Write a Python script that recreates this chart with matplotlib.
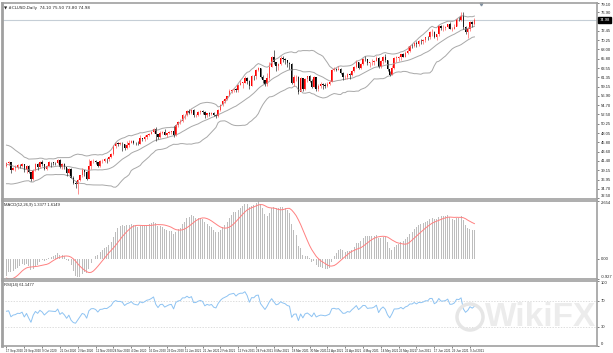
import numpy as np
import pandas as pd
import matplotlib
matplotlib.use("Agg")
import matplotlib.pyplot as plt
from matplotlib.patches import Ellipse

plt.rcParams["font.family"] = ["Liberation Sans", "DejaVu Sans"]

# closes before the first visible bar, only used to warm up the indicators
warmup = [40.65, 40.63, 40.62, 40.90, 40.55, 40.10, 39.43, 40.33, 40.75, 40.59,
          40.81, 40.83, 41.20, 41.96, 40.59, 41.29, 41.07, 41.04, 41.60, 41.92,
          41.01, 41.70, 42.19, 41.95, 41.22, 41.94, 41.61, 42.67, 42.24, 42.01,
          42.89, 42.89, 42.93, 42.82, 42.34, 42.62, 43.35, 43.39, 43.04, 42.97,
          42.61, 42.76, 41.51, 41.37, 39.77, 39.30, 36.76, 38.05, 37.30, 37.33,
          37.26, 38.28, 40.16]

# visible daily bars, 17 Sep 2020 .. 13 Jul 2021 (open = previous close)
close = [40.97, 41.11,
         39.31, 39.80, 39.93, 40.31, 40.25,
         40.60, 39.29, 40.22, 38.72, 37.05,
         39.22, 40.67, 39.95, 41.19, 40.60,
         39.43, 40.20, 41.04, 40.96, 40.88,
         40.83, 41.70, 40.03, 40.64, 39.85,
         38.56, 39.57, 37.39, 36.17, 35.79,
         36.81, 37.96, 39.15, 38.79, 37.14,
         40.29, 41.36, 41.45, 41.12, 40.13,
         41.34, 41.43, 41.82, 41.74, 42.42,
         43.06, 44.91, 45.71, 45.48, 45.53,
         45.34, 44.55, 45.28, 45.64, 46.26,
         45.76, 45.60, 45.52, 46.78, 46.57,
         46.99, 47.62, 47.82, 48.36, 49.10,
         47.74, 47.02, 48.12, 48.23,
         47.62, 48.00, 48.40, 48.52,
         47.62, 49.93, 50.63, 50.83, 52.24,
         52.25, 53.21, 52.91, 53.57, 52.36,
         52.42, 52.98, 53.31, 53.13, 52.27,
         52.77, 52.61, 52.85, 52.34, 52.20,
         53.55, 54.76, 55.69, 56.23, 56.85,
         57.97, 58.36, 58.68, 58.24, 59.47,
         60.05, 60.05, 61.14, 60.52, 59.24,
         61.70, 61.67, 63.22, 63.53, 61.50,
         60.64, 59.75, 61.28, 63.83, 66.09,
         65.05, 64.01, 64.44, 66.02, 65.61,
         65.39, 64.80, 64.60, 60.00, 61.42,
         61.55, 57.76, 61.18, 58.56, 60.97,
         61.56, 60.55, 59.16, 61.45,
         58.65, 59.33, 59.77, 59.60, 59.32,
         59.70, 60.18, 63.15, 63.46, 63.13,
         63.38, 62.44, 61.35, 61.43, 62.14,
         61.91, 62.94, 63.86, 64.96, 63.58,
         64.49, 65.69, 65.63, 64.71, 64.90,
         64.92, 65.28, 66.08, 63.82, 65.37,
         66.27, 65.49, 63.36, 61.94, 63.58,
         66.05, 66.07, 66.21, 66.85, 66.32,
         67.28, 67.72, 68.83, 68.81, 69.62,
         69.23, 70.05, 69.96, 70.29, 70.91,
         70.88, 72.12, 72.15, 71.04, 71.64,
         73.66, 73.06, 73.08, 73.30, 74.05,
         72.91, 72.98, 73.47, 75.23, 75.16,
         76.10, 73.37, 72.20, 72.94, 74.56,
         74.10, 74.98]

high = [41.2, 41.4,
        41.2, 40.0, 40.3, 40.6, 40.6,
        40.9, 40.6, 40.4, 40.4, 38.8,
        39.4, 40.9, 40.9, 41.4, 41.6,
        40.5, 40.4, 41.3, 41.2, 41.1,
        41.2, 41.9, 41.8, 40.8, 40.8,
        39.7, 39.7, 39.6, 37.7, 36.5,
        37.1, 38.1, 39.8, 39.2, 38.9,
        41.8, 41.6, 41.8, 41.7, 41.2,
        41.6, 41.8, 42.0, 42.0, 42.5,
        43.3, 45.2, 46.0, 45.8, 46.0,
        46.0, 45.4, 46.1, 46.3, 46.5,
        46.5, 45.9, 46.1, 47.7, 46.9,
        47.5, 47.8, 48.0, 48.6, 49.2,
        49.4, 47.9, 48.6, 48.6,
        48.9, 48.0, 48.6, 48.6,
        49.8, 50.2, 50.9, 51.3, 52.5,
        52.7, 53.5, 53.9, 53.9, 53.7,
        52.7, 53.3, 53.5, 53.5, 53.2,
        52.9, 53.0, 53.0, 53.0, 52.6,
        53.7, 54.9, 55.9, 56.3, 57.0,
        58.6, 58.6, 58.9, 58.9, 59.8,
        60.8, 60.2, 61.7, 61.4, 60.8,
        61.9, 61.9, 63.3, 63.8, 63.6,
        61.8, 60.6, 62.3, 64.9, 66.4,
        67.98, 65.1, 64.8, 66.4, 66.4,
        65.9, 65.3, 65.0, 64.8, 61.9,
        62.0, 61.6, 61.4, 61.3, 61.3,
        61.6, 61.8, 60.9, 61.6,
        61.4, 59.8, 60.2, 60.0, 60.0,
        60.3, 60.6, 63.3, 63.8, 63.6,
        64.0, 63.6, 62.6, 61.8, 62.3,
        62.4, 63.2, 64.0, 65.5, 65.0,
        64.8, 66.0, 66.5, 65.6, 65.1,
        65.7, 65.6, 66.5, 66.2, 65.6,
        66.5, 67.0, 65.6, 62.9, 64.3,
        66.3, 66.5, 66.4, 67.0, 67.2,
        67.6, 68.9, 69.0, 69.4, 69.8,
        70.0, 70.2, 70.4, 70.6, 71.0,
        71.2, 72.3, 72.9, 72.3, 71.8,
        73.9, 73.9, 73.9, 73.5, 74.2,
        74.5, 73.4, 74.0, 75.5, 75.7,
        76.9, 76.98, 73.7, 73.3, 74.9,
        74.8, 75.5]

low = [39.9, 40.3,
       38.6, 39.2, 39.1, 39.4, 39.6,
       39.9, 38.8, 38.6, 38.5, 36.6,
       36.9, 39.0, 39.2, 39.8, 40.2,
       39.2, 39.3, 40.1, 40.0, 40.4,
       40.4, 40.7, 39.7, 39.4, 39.4,
       37.9, 38.3, 37.2, 35.9, 34.9,
       33.6, 36.7, 37.5, 37.9, 36.9,
       37.3, 39.5, 41.0, 40.6, 40.0,
       40.0, 40.9, 41.1, 40.8, 41.4,
       42.2, 42.9, 44.5, 45.0, 45.1,
       43.8, 43.9, 44.2, 44.8, 45.6,
       45.4, 45.1, 45.3, 45.5, 46.1,
       46.2, 46.6, 47.3, 47.8, 48.1,
       46.2, 46.6, 46.9, 47.8,
       47.5, 47.2, 47.9, 47.8,
       47.2, 47.4, 49.4, 50.3, 50.6,
       51.5, 52.0, 52.6, 52.7, 51.9,
       51.8, 52.1, 52.7, 52.6, 51.6,
       51.8, 52.2, 52.3, 52.0, 51.7,
       51.9, 53.4, 54.6, 55.3, 55.9,
       56.9, 57.5, 57.9, 57.9, 57.9,
       59.5, 58.8, 59.9, 59.8, 58.5,
       59.4, 60.6, 61.0, 62.9, 61.2,
       59.9, 59.2, 59.4, 60.7, 63.8,
       64.6, 62.9, 63.2, 64.3, 64.9,
       64.6, 63.9, 63.4, 59.7, 59.4,
       60.4, 57.3, 58.2, 58.1, 58.3,
       60.3, 60.2, 58.9, 59.0,
       58.2, 58.2, 58.9, 58.6, 58.9,
       59.0, 59.5, 60.2, 62.8, 62.9,
       63.0, 62.2, 60.8, 61.0, 61.0,
       61.0, 61.6, 62.7, 63.6, 63.3,
       63.4, 64.2, 65.3, 64.2, 63.8,
       64.3, 64.2, 65.2, 63.5, 63.6,
       64.6, 64.9, 62.8, 61.6, 61.9,
       63.3, 65.1, 65.3, 65.6, 66.1,
       66.2, 67.0, 67.4, 68.3, 68.5,
       68.5, 68.9, 69.3, 69.4, 69.9,
       70.3, 70.6, 71.3, 70.7, 70.3,
       71.3, 72.6, 72.5, 72.6, 73.1,
       72.8, 72.3, 72.9, 73.5, 74.7,
       74.9, 73.0, 71.8, 70.8, 72.4,
       73.4, 73.8]

holidays = ["2020-12-25", "2021-01-01", "2021-04-02"]
dates = pd.bdate_range("2020-09-17", "2021-07-13")
dates = dates[~dates.isin(pd.to_datetime(holidays))][:len(close)]

price_ticks = [32.50, 34.70, 36.95, 39.15, 41.40, 43.60, 45.80, 48.05, 50.25,
               52.50, 54.70, 56.90, 59.15, 61.35, 63.55, 65.80, 68.00, 70.25,
               72.45, 76.90, 79.10]

# indicators, same settings as the terminal
allc = pd.Series(warmup + close)
nw = len(warmup)
opens = allc.shift(1).iloc[nw:].to_numpy()
mid = allc.rolling(20).mean()
sd = allc.rolling(20).std(ddof=0)
upper = (mid + 2 * sd).iloc[nw:].to_numpy()
lower = (mid - 2 * sd).iloc[nw:].to_numpy()
mid = mid.iloc[nw:].to_numpy()
macd = allc.ewm(span=12, adjust=False).mean() - allc.ewm(span=26, adjust=False).mean()
signal = macd.rolling(9).mean().iloc[nw:].to_numpy()
macd = macd.iloc[nw:].to_numpy()
delta = allc.diff()
gain = delta.clip(lower=0).ewm(alpha=1 / 14, adjust=False).mean()
loss = (-delta.clip(upper=0)).ewm(alpha=1 / 14, adjust=False).mean()
rsi = (100 - 100 / (1 + gain / loss)).iloc[nw:].to_numpy()

x = np.arange(len(close))
c = np.array(close)
up = c >= opens
W, H = 613, 353


def box(x0, y0, x1, y1):
    return [x0 / W, 1 - y1 / H, (x1 - x0) / W, (y1 - y0) / H]


fig = plt.figure(figsize=(W / 100, H / 100), dpi=100)

# watermark sits behind the panels
fig.patches.append(Ellipse((470 / W, 1 - 317 / H), 26 / W, 26 / H, transform=fig.transFigure,
                           fill=False, ec="#e6e6e6", lw=2.5, zorder=0))
fig.text(596 / W, 1 - 317 / H, "WikiFX", fontsize=24, fontweight="bold", color="#ececec",
         ha="right", va="center", zorder=0)

ax_p = fig.add_axes(box(2, 3, 597, 199))
ax_m = fig.add_axes(box(2, 201, 597, 279))
ax_r = fig.add_axes(box(2, 281, 597, 346))

for ax in (ax_p, ax_m, ax_r):
    ax.set_xlim(-2, 265)
    ax.patch.set_alpha(0)
    for s in ax.spines.values():
        s.set_color("#a0a0a0")
        s.set_linewidth(1.2)
    ax.spines["left"].set_linewidth(2)
    ax.yaxis.tick_right()
    ax.tick_params(axis="y", labelsize=3, length=1.5, width=0.4, pad=1, colors="#222222")
    ax.tick_params(axis="x", length=0)
    ax.set_xticks([])

# price panel
ax_p.set_ylim(32.3, 79.0)
ax_p.axhline(close[-1], color="#c5ced6", lw=0.8, zorder=0)
ax_p.plot(x, upper, color="#a8a8a8", lw=0.7)
ax_p.plot(x, mid, color="#a8a8a8", lw=0.7)
ax_p.plot(x, lower, color="#a8a8a8", lw=0.7)
ax_p.vlines(x[up], np.array(low)[up], np.array(high)[up], color="#ff6060", lw=0.5)
ax_p.vlines(x[~up], np.array(low)[~up], np.array(high)[~up], color="#303030", lw=0.5)
body = np.where(np.abs(c - opens) < 0.08, 0.08, c - opens)
ax_p.bar(x[up], body[up], bottom=opens[up], width=0.65, color="#ff0000", lw=0)
ax_p.bar(x[~up], body[~up], bottom=opens[~up], width=0.65, color="#000000", lw=0)
shown = [t for t in price_ticks if abs(t - close[-1]) > 1.3]
ax_p.set_yticks(shown)
ax_p.set_yticklabels([f"{t:.2f}" for t in shown])
ax_p.get_yticklabels()[-1].set_va("top")
ax_p.get_yticklabels()[0].set_va("bottom")
ax_p.text(1.004, close[-1], f"{close[-1]:.2f}", transform=ax_p.get_yaxis_transform(),
          fontsize=3, color="white", va="center", ha="left",
          bbox=dict(boxstyle="square,pad=0.25", fc="black", ec="black"))
ax_p.text(0.004, 0.985, f"\u25bc #CLUSD,Daily  {opens[-1]:.2f} {high[-1]:.2f} {low[-1]:.2f} {close[-1]:.2f}",
          transform=ax_p.transAxes, fontsize=3, va="top", ha="left", color="#222222",
          family=["DejaVu Sans"])
ax_p.plot([213], [78.9], marker="v", ms=2, color="#8090a0", clip_on=False)

# MACD panel
mtop = max(np.nanmax(macd), np.nanmax(signal))
mbot = min(np.nanmin(macd), np.nanmin(signal))
ax_m.set_ylim(mbot, mtop)
ax_m.bar(x, macd, width=0.45, color="#bdbdbd", lw=0)
ax_m.plot(x, signal, color="#ff8080", lw=0.7)
ax_m.set_yticks([mtop, 0, mbot])
ax_m.set_yticklabels([f"{mtop:.3f}", "0.00", f"{mbot:.3f}"])
ax_m.get_yticklabels()[0].set_va("top")
ax_m.get_yticklabels()[2].set_va("bottom")
ax_m.text(0.004, 0.98, f"MACD(12,26,9) {macd[-1]:.4f} {signal[-1]:.4f}",
          transform=ax_m.transAxes, fontsize=3, va="top", ha="left", color="#222222")

# RSI panel
ax_r.set_ylim(0, 100)
for lv in (30, 70):
    ax_r.axhline(lv, color="#d0d0d0", lw=0.5, ls=(0, (2, 2)))
ax_r.plot(x, rsi, color="#8ec3f2", lw=0.7)
ax_r.set_yticks([100, 70, 30, 0])
ax_r.set_yticklabels(["100", "70", "30", "0"])
ax_r.get_yticklabels()[0].set_va("top")
ax_r.get_yticklabels()[3].set_va("bottom")
ax_r.text(0.004, 0.97, f"RSI(14) {rsi[-1]:.4f}", transform=ax_r.transAxes,
          fontsize=3, va="top", ha="left", color="#222222")

# date scale under the last panel
pos = x[::8]
ax_r.set_xticks(pos)
ax_r.set_xticklabels([f"{d.day} {d:%b %Y}" for d in dates[::8]], ha="left")
ax_r.tick_params(axis="x", labelsize=2.2, length=1.5, width=0.4, pad=0.5, colors="#222222")

fig.savefig("out.png", dpi=100)
